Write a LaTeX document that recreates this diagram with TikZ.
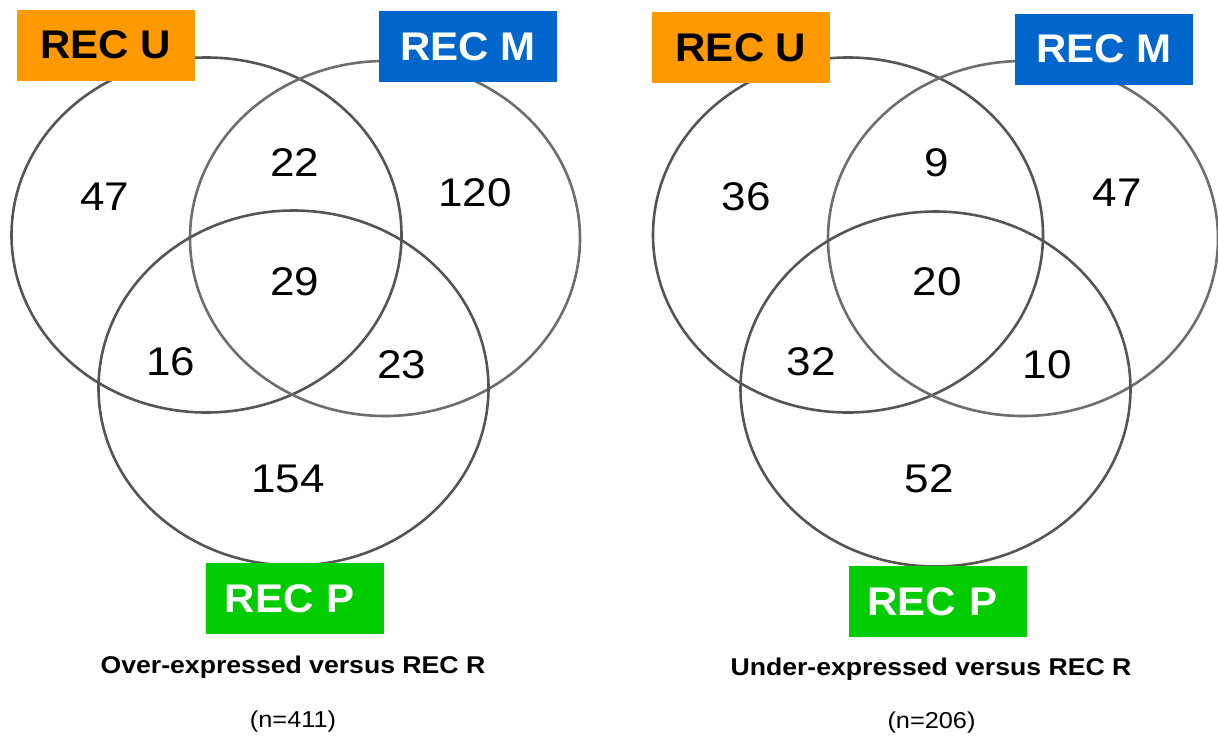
\documentclass[tikz,border=0pt]{standalone}
\usepackage{fontspec}
\setmainfont{Liberation Sans}[FakeStretch=1.1]
\newfontfamily\lblfont{Liberation Sans}[FakeStretch=1.05]
\usetikzlibrary{shapes.geometric}
\definecolor{recU}{HTML}{FF9900}
\definecolor{recM}{HTML}{0066CC}
\definecolor{recP}{HTML}{00CC00}
\definecolor{ringA}{HTML}{555555}
\definecolor{ringB}{HTML}{6E6E6E}
\tikzset{
  ring/.style={ellipse, draw=ringA, line width=2.6pt, inner sep=0pt,
    minimum width=390pt, minimum height=355pt},
  ringlight/.style={ring, draw=ringB},
  setbox/.style={rectangle, inner sep=0pt, minimum width=178pt, minimum height=71pt,
    font=\lblfont\bfseries\fontsize{40}{44}\selectfont},
  count/.style={inner sep=0pt, font=\fontsize{40}{44}\selectfont},
  caption/.style={inner sep=0pt, anchor=base, font=\bfseries\fontsize{24.2}{28}\selectfont},
  total/.style={inner sep=0pt, anchor=base, font=\fontsize{23}{28}\selectfont},
}
\begin{document}
\begin{tikzpicture}[x=1pt, y=-1pt]
\path[use as bounding box, fill=white] (0,0) rectangle (1218,736);

% ---- left diagram ----
\node[ring] (LU) at (206.5,235) {};
\node[ringlight] (LM) at (385,238.5) {};
\node[ring] (LP) at (293.5,388) {};

\node[setbox, fill=recU, text=black] (LlabU) at (105.5,45) {REC U};
\node[setbox, fill=recM, text=white] (LlabM) at (468,46.5) {REC M};
\node[setbox, fill=recP, text=white, text width=178pt, align=center] (LlabP) at (295,598.5) {REC P\hspace*{10pt}};

\node[count] (L47) at (105,197) {47};
\node[count] (L22) at (295,163) {22};
\node[count] (L120) at (475,193) {120};
\node[count] (L29) at (295,282) {29};
\node[count] (L16) at (171,362) {16};
\node[count] (L23) at (402,365) {23};
\node[count] (L154) at (288,479) {154};

\node[caption] (Lcap) at (293,673) {Over-expressed versus REC R};
\node[total] (Ln) at (293,727) {(n=411)};

% ---- right diagram ----
\node[ring] (RU) at (848,235) {};
\node[ringlight] (RM) at (1023,238.5) {};
\node[ring] (RP) at (935.5,389) {};

\node[setbox, fill=recU, text=black] (RlabU) at (741,47.5) {REC U};
\node[setbox, fill=recM, text=white] (RlabM) at (1104,49) {REC M};
\node[setbox, fill=recP, text=white, text width=178pt, align=center] (RlabP) at (937.5,601.5) {REC P\hspace*{10pt}};

\node[count] (R36) at (746,197) {36};
\node[count] (R9) at (937,163) {9};
\node[count] (R47) at (1117,193) {47};
\node[count] (R20) at (937,282) {20};
\node[count] (R32) at (811,362) {32};
\node[count] (R10) at (1047,365) {10};
\node[count] (R52) at (929,479) {52};

\node[caption] (Rcap) at (931,675) {Under-expressed versus REC R};
\node[total] (Rn) at (931.5,728) {(n=206)};
\end{tikzpicture}
\end{document}
